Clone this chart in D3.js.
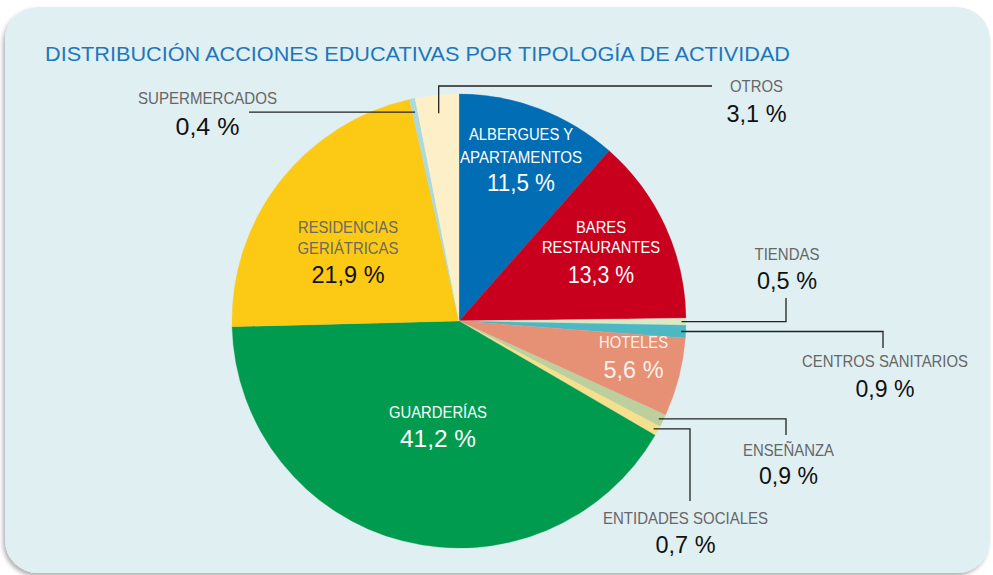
<!DOCTYPE html>
<html>
<head>
<meta charset="utf-8">
<script src="https://cdn.jsdelivr.net/npm/d3@7"></script>
<style>
  html, body { margin: 0; padding: 0; background: #ffffff; }
  svg { display: block; }
  .name { font-family: "Liberation Sans Narrow", "Liberation Sans", Arial, sans-serif; }
  .val { font-family: "Liberation Sans", Arial, sans-serif; }
</style>
</head>
<body>
<div id="chart"></div>
<script>
// data
const categories = ["ALBERGUES Y APARTAMENTOS", "BARES RESTAURANTES", "TIENDAS", "CENTROS SANITARIOS",
  "HOTELES", "ENSEÑANZA", "ENTIDADES SOCIALES", "GUARDERÍAS", "RESIDENCIAS GERIÁTRICAS", "SUPERMERCADOS", "OTROS"];
const values = [11.5, 13.3, 0.5, 0.9, 5.6, 0.9, 0.7, 41.2, 21.9, 0.4, 3.1];
const colors = ["#006db4", "#c8001e", "#d9e8c5", "#4cb8c4", "#e69176", "#bccf9c", "#f5e08e",
  "#009b4e", "#fcc915", "#add8e0", "#fdf0c8"];
const title = "DISTRIBUCIÓN ACCIONES EDUCATIVAS POR TIPOLOGÍA DE ACTIVIDAD";

// label layout (index into data, text lines, centres, baselines, widths)
const labelLayout = [
  { i: 0, lines: ["ALBERGUES Y", "APARTAMENTOS"], x: 521, ys: [140, 163], ws: [104, 122], vy: 191, vw: 68, fill: "#ffffff", vfill: "#ffffff" },
  { i: 1, lines: ["BARES", "RESTAURANTES"], x: 601, ys: [233, 253], ws: [50, 118], vy: 283, vw: 66, fill: "#ffffff", vfill: "#ffffff" },
  { i: 4, lines: ["HOTELES"], x: 633.5, ys: [348], ws: [69], vy: 378, vw: 60, fill: "#fdf0ea", vfill: "#fdf0ea" },
  { i: 7, lines: ["GUARDERÍAS"], x: 438, ys: [418], ws: [98], vy: 447, vw: 76, fill: "#ffffff", vfill: "#ffffff" },
  { i: 8, lines: ["RESIDENCIAS", "GERIÁTRICAS"], x: 348, ys: [233, 254], ws: [100, 101], vy: 283, vw: 73, fill: "#6a6a5e", vfill: "#111111" },
  { i: 2, lines: ["TIENDAS"], x: 787, ys: [260], ws: [65], vy: 289, vw: 60, fill: "#666666", vfill: "#111111",
    leader: { type: "hv", k: 0.98, ex: 786, ey: 298 } },
  { i: 3, lines: ["CENTROS SANITARIOS"], x: 885, ys: [367], ws: [166], vy: 397, vw: 59, fill: "#666666", vfill: "#111111",
    leader: { type: "hv", k: 0.98, ex: 883, ey: 348 } },
  { i: 5, lines: ["ENSEÑANZA"], x: 788.5, ys: [456], ws: [91], vy: 484, vw: 59, fill: "#666666", vfill: "#111111",
    leader: { type: "hv", k: 0.98, ex: 786, ey: 435 } },
  { i: 6, lines: ["ENTIDADES SOCIALES"], x: 685.5, ys: [524], ws: [165], vy: 553, vw: 60, fill: "#666666", vfill: "#111111",
    leader: { type: "hv", k: 0.98, ex: 690, ey: 501 } },
  { i: 9, lines: ["SUPERMERCADOS"], x: 207.5, ys: [104], ws: [139], vy: 135, vw: 64, fill: "#666666", vfill: "#111111",
    leader: { type: "h", k: 0.94, ex: 249 } },
  { i: 10, lines: ["OTROS"], x: 756.5, ys: [92], ws: [53], vy: 122, vw: 60, fill: "#666666", vfill: "#111111",
    leader: { type: "vh", k: 0.92, ex: 712, ey: 86 } }
];

const width = 993, height = 575;
const cx = 459, cy = 321, radius = 227;

const svg = d3.select("#chart").append("svg")
  .attr("width", width)
  .attr("height", height);

const defs = svg.append("defs");
const shadow = defs.append("filter").attr("id", "shadow")
  .attr("x", "-5%").attr("y", "-5%").attr("width", "110%").attr("height", "110%");
shadow.append("feDropShadow")
  .attr("dx", -2).attr("dy", 3).attr("stdDeviation", 2)
  .attr("flood-color", "#000").attr("flood-opacity", 0.3);

// panel
svg.append("rect")
  .attr("x", 5).attr("y", 7)
  .attr("width", 985).attr("height", 566)
  .attr("rx", 33).attr("ry", 33)
  .attr("fill", "#e0eff2")
  .attr("filter", "url(#shadow)");

svg.append("text")
  .attr("class", "val")
  .attr("x", 45).attr("y", 61)
  .attr("font-size", 21)
  .attr("fill", "#1d77bd")
  .attr("textLength", 745)
  .attr("lengthAdjust", "spacingAndGlyphs")
  .text(title);

const pie = d3.pie().sort(null).value(d => d);
const arcs = pie(values);
const arc = d3.arc().innerRadius(0).outerRadius(radius);

const g = svg.append("g").attr("transform", `translate(${cx},${cy})`);

g.selectAll("path")
  .data(arcs)
  .enter().append("path")
  .attr("d", arc)
  .attr("fill", (d, i) => colors[i])
  .attr("stroke", (d, i) => colors[i])
  .attr("stroke-width", 0.3);

const fmt = v => d3.format(".1f")(v).replace(".", ",") + " %";

// point on the pie at the middle of slice i, at k * radius
function slicePoint(i, k) {
  const a = (arcs[i].startAngle + arcs[i].endAngle) / 2;
  return [cx + Math.sin(a) * radius * k, cy - Math.cos(a) * radius * k];
}

// leader lines
labelLayout.filter(l => l.leader).forEach(l => {
  const [sx, sy] = slicePoint(l.i, l.leader.k);
  let pts;
  if (l.leader.type === "hv") pts = [[sx, sy], [l.leader.ex, sy], [l.leader.ex, l.leader.ey]];
  else if (l.leader.type === "vh") pts = [[sx, sy], [sx, l.leader.ey], [l.leader.ex, l.leader.ey]];
  else pts = [[sx, sy], [l.leader.ex, sy]];
  svg.append("path")
    .attr("d", d3.line()(pts))
    .attr("fill", "none")
    .attr("stroke", "#222")
    .attr("stroke-width", 1.3);
});

// labels
labelLayout.forEach(l => {
  l.lines.forEach((t, j) => {
    svg.append("text")
      .attr("class", "name")
      .attr("x", l.x).attr("y", l.ys[j])
      .attr("text-anchor", "middle")
      .attr("font-size", 17)
      .attr("fill", l.fill)
      .attr("textLength", l.ws[j])
      .attr("lengthAdjust", "spacingAndGlyphs")
      .text(t);
  });
  svg.append("text")
    .attr("class", "val")
    .attr("x", l.x).attr("y", l.vy)
    .attr("text-anchor", "middle")
    .attr("font-size", 23)
    .attr("fill", l.vfill)
    .attr("textLength", l.vw)
    .attr("lengthAdjust", "spacingAndGlyphs")
    .text(fmt(values[l.i]));
});
</script>
</body>
</html>
